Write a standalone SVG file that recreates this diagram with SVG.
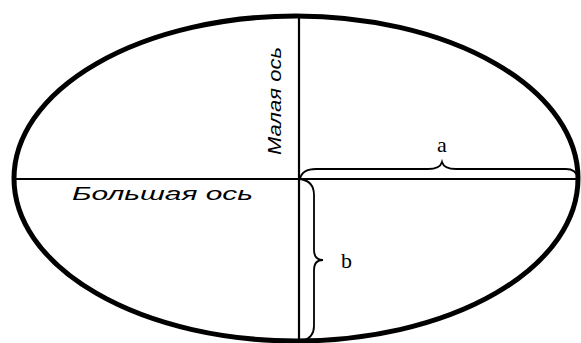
<svg xmlns="http://www.w3.org/2000/svg" width="581" height="343" viewBox="0 0 581 343">
<style>
.ax{stroke:#000;stroke-width:2.2;fill:none}
.br{stroke:#000;stroke-width:1.8;fill:none}
.lbl{font-family:"Liberation Sans",Arial,sans-serif;font-style:italic;font-size:19px;fill:#000}
.ser{font-family:"Liberation Serif","Times New Roman",serif;font-size:22px;fill:#000}
</style>
<rect width="581" height="343" fill="#fff"/>
<g id="ellipse">
<ellipse cx="296" cy="178.5" rx="282" ry="162.5" fill="none" stroke="#000" stroke-width="5"/>
</g>
<g id="axes">
<line class="ax" x1="14" y1="179" x2="578" y2="179"/>
<line class="ax" x1="299" y1="16" x2="299" y2="341"/>
</g>
<g id="brace-a">
<path class="br" d="M300,179 Q302,169 316,169 L428,169 Q440,169 442,162 Q444,169 456,169 L566,169 Q576,169 578,178"/>
<text class="ser" x="442" y="152" text-anchor="middle">a</text>
</g>
<g id="brace-b">
<path class="br" d="M300,179 Q314,181 314,195 L314,250 Q314,260 323,260 Q314,260 314,270 L314,326 Q314,338 302,341"/>
<text class="ser" x="341" y="268">b</text>
</g>
<g id="label-major">
<text class="lbl" x="72" y="200" textLength="181" lengthAdjust="spacingAndGlyphs">Большая ось</text>
</g>
<g id="label-minor">
<text class="lbl" transform="translate(281,155) rotate(-90)" x="0" y="0" textLength="108" lengthAdjust="spacingAndGlyphs">Малая ось</text>
</g>
</svg>
